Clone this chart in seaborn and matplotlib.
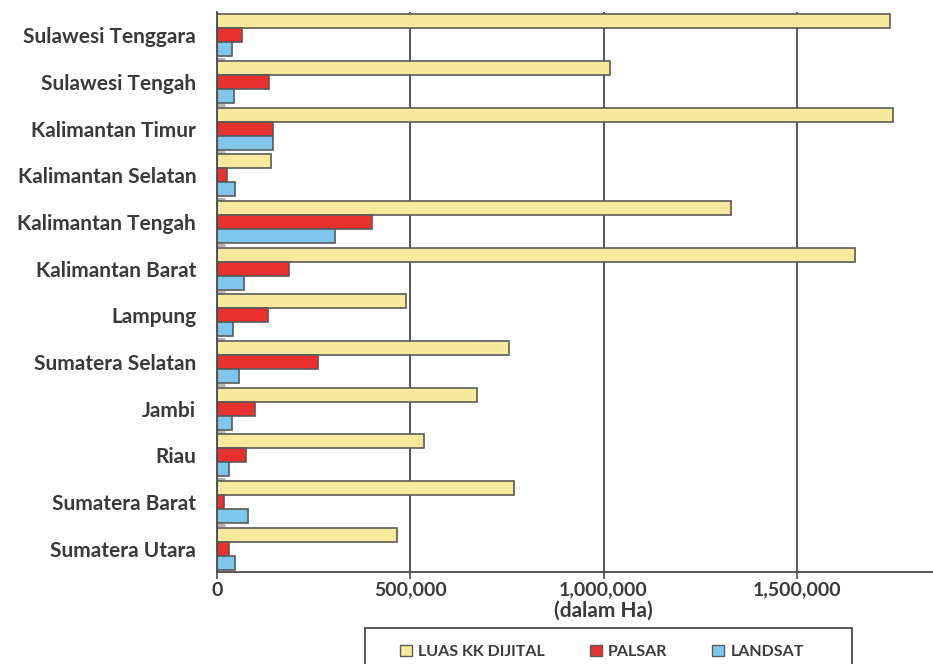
import matplotlib
matplotlib.use("Agg")
import matplotlib.pyplot as plt
import matplotlib.ticker as mticker
import pandas as pd
import seaborn as sns

provinces = [
    "Sulawesi Tenggara", "Sulawesi Tengah", "Kalimantan Timur",
    "Kalimantan Selatan", "Kalimantan Tengah", "Kalimantan Barat",
    "Lampung", "Sumatera Selatan", "Jambi", "Riau",
    "Sumatera Barat", "Sumatera Utara",
]
luas_kk_dijital = [1740000, 1016000, 1748000, 140000, 1329000, 1650000,
                   489000, 755000, 672000, 535000, 768000, 465000]
palsar = [65000, 134000, 145000, 26000, 401000, 186000,
          132000, 261000, 98000, 75000, 18000, 31000]
landsat = [39000, 44000, 145000, 47000, 305000, 70000,
           41000, 57000, 39000, 31000, 80000, 47000]
series_names = ["LUAS KK DIJITAL", "PALSAR", "LANDSAT"]
x_ticks = [0, 500000, 1000000, 1500000]
x_label = "(dalam Ha)"

frames = []
for name, vals in zip(series_names, [luas_kk_dijital, palsar, landsat]):
    frames.append(pd.DataFrame({"provinsi": provinces, "luas": vals, "sumber": name}))
df = pd.concat(frames, ignore_index=True)

sns.set_theme(style="white")
plt.rcParams["font.family"] = ["Lato", "DejaVu Sans"]
text_color = "#3a3a3a"
edge = "#5a5a5a"

fig = plt.figure(figsize=(9.33, 6.64), dpi=100)
ax = fig.add_axes([0.2326, 0.1386, 0.7674, 0.8434])

palette = {"LUAS KK DIJITAL": "#f8e99c", "PALSAR": "#e8302e", "LANDSAT": "#80c6ec"}
sns.barplot(data=df, y="provinsi", x="luas", hue="sumber", order=provinces,
            hue_order=series_names, palette=palette, orient="h", width=0.9,
            edgecolor=edge, linewidth=1.2, saturation=1, ax=ax, legend=False,
            zorder=3)

x_max = 1852000
ax.set_xlim(0, x_max)
ax.set_ylim(len(provinces) - 0.5, -0.5)
ax.set_xticks(x_ticks)
ax.xaxis.set_major_formatter(mticker.FuncFormatter(lambda v, p: f"{int(v):,}"))
ax.grid(axis="x", color="#4a4a4a", linewidth=1.3, zorder=0)
ax.grid(axis="y", visible=False)

for s in ["top", "right"]:
    ax.spines[s].set_visible(False)
for s in ["left", "bottom"]:
    ax.spines[s].set_color("#4a4a4a")
    ax.spines[s].set_linewidth(1.3)
    ax.spines[s].set_zorder(4)

ax.tick_params(axis="x", bottom=True, length=5, width=1.2, color="#4a4a4a",
               labelsize=14, labelcolor=text_color, pad=2)
ax.tick_params(axis="y", left=False, labelsize=15, labelcolor=text_color, pad=9)
ax.set_yticks([i - 0.5 for i in range(1, len(provinces))], minor=True)
ax.tick_params(axis="y", which="minor", left=True, direction="in", length=6,
               width=2, color="#b0b0b0")
for lbl in ax.get_yticklabels() + ax.get_xticklabels():
    lbl.set_fontweight("bold")

ax.set_xlabel(x_label, fontsize=15, fontweight="bold", color=text_color, labelpad=0)
ax.xaxis.set_label_coords(1000000 / x_max, -0.052)
ax.set_ylabel("")

# legend box at the bottom, running off the lower edge of the figure
fig.patches.append(plt.Rectangle((365 / 933, -0.02), 487 / 933, 0.02 + 36 / 664,
                                 transform=fig.transFigure, facecolor="white",
                                 edgecolor="#4a4a4a", linewidth=1.3))
handles = [plt.Rectangle((0, 0), 1, 1, facecolor=palette[n], edgecolor=edge, linewidth=1)
           for n in series_names]
leg = fig.legend(handles, series_names, loc="center",
                 bbox_to_anchor=(602 / 933, 1 - 652 / 664),
                 ncol=3, frameon=False, handlelength=0.75, handleheight=0.75,
                 handletextpad=0.4, columnspacing=2.8, borderpad=0,
                 prop={"size": 11.5, "weight": "bold"})
for t in leg.get_texts():
    t.set_color(text_color)

fig.savefig("out.png", dpi=100)
